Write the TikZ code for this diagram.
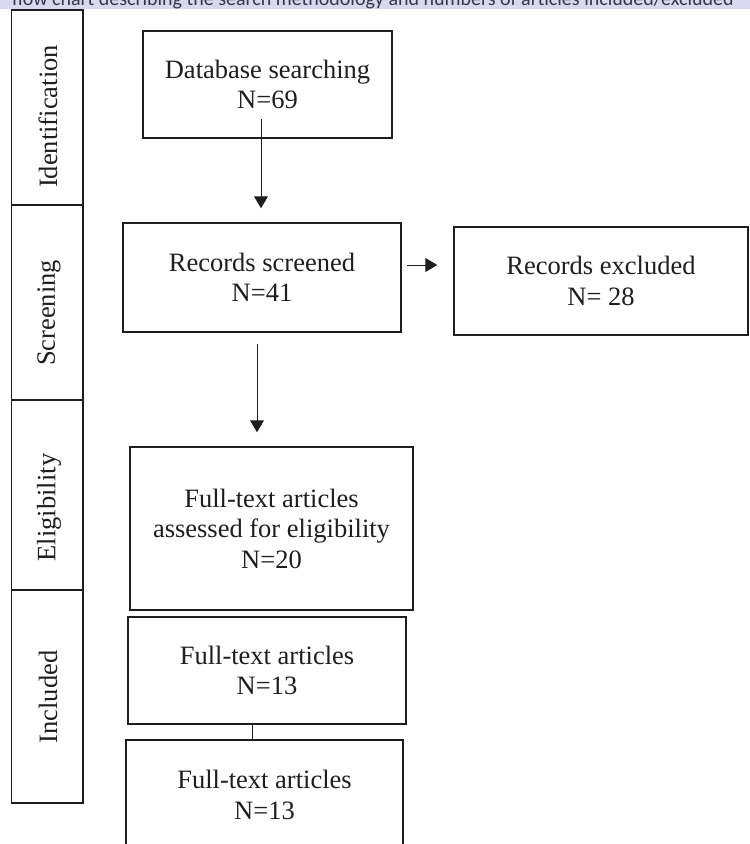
\documentclass[tikz,border=0pt]{standalone}
\usepackage{fontspec}
\setmainfont{Liberation Serif}
\newfontfamily\capfont{Carlito}
\usetikzlibrary{arrows.meta}
\definecolor{capbg}{RGB}{216,216,238}
\definecolor{captext}{RGB}{55,55,75}
\definecolor{ink}{RGB}{30,30,30}

\begin{document}
\begin{tikzpicture}[x=1pt,y=-1pt,
    box/.style={draw=ink,line width=1.5pt,align=center,text=ink,inner sep=0pt,
      font=\fontsize{26.5}{30.5}\selectfont},
    phase/.style={draw=ink,line width=1.5pt,minimum width=71.5pt,inner sep=0pt},
    phasetext/.style={rotate=90,text=ink,inner sep=0pt,font=\fontsize{26.5}{30.5}\selectfont},
    arr/.style={draw=ink,line width=1pt,-{Triangle[width=14pt,length=12pt]}}]
  \useasboundingbox (0,0) rectangle (750,844);
  \clip (0,0) rectangle (750,844);

  % caption strip, cut at the top
  \fill[capbg] (0,0) rectangle (750,9);
  \begin{scope}
    \clip (0,0) rectangle (750,9);
    \node[anchor=base west,inner sep=0pt,text=captext,font=\capfont\fontsize{20}{24}\selectfont]
      (cap) at (12,5.5) {flow chart describing the search methodology and numbers of articles included/excluded};
  \end{scope}

  % phases
  \path
  (47.25,107.5) node[phase,minimum height=195pt](idf){}
  (47.25,302.5) node[phase,minimum height=195pt](scrn){}
  (47.25,495) node[phase,minimum height=190pt](elg){}
  (47.25,696.5) node[phase,minimum height=213pt](incl){};
  \path
  (48,116.5) node[phasetext](idf-t){Identification}
  (49,313) node[phasetext](scrn-t){Screening}
  (49,507.5) node[phasetext](elg-t){Eligibility}
  (48,697) node[phasetext](incl-t){Included};

  % boxes
  \path
  (267.5,84.5) node[box,minimum width=249pt,minimum height=107pt](db){Database searching\\N=69}
  (262,277.5) node[box,minimum width=278pt,minimum height=109pt](scr){Records screened\\N=41}
  (601,281) node[box,minimum width=294pt,minimum height=108pt](exc){Records excluded\\N= 28}
  (271.5,528.5) node[box,minimum width=283pt,minimum height=163pt](elig){Full-text articles\\assessed for eligibility\\N=20}
  (267,670.5) node[box,minimum width=278pt,minimum height=107pt](inc1){Full-text articles\\N=13}
  (264.5,795) node[box,minimum width=277pt,minimum height=110pt](inc2){Full-text articles\\N=13};

  \coordinate (a1) at (261,119);
  \draw[arr,shorten >=14pt] (a1) -- (a1 |- scr.north);
  \draw[arr,shorten <=5pt,shorten >=16pt] ([yshift=12.5pt]scr.east) -- ([yshift=12.5pt]scr.east -| exc.west);
  \draw[arr,shorten <=11pt,shorten >=14pt] ([xshift=-5pt]scr.south) -- ([xshift=-5pt]scr.south |- elig.north);
  \draw[draw=ink,line width=1pt] ([xshift=-15pt]inc1.south) -- ([xshift=-15pt]inc1.south |- inc2.north);
\end{tikzpicture}
\end{document}
